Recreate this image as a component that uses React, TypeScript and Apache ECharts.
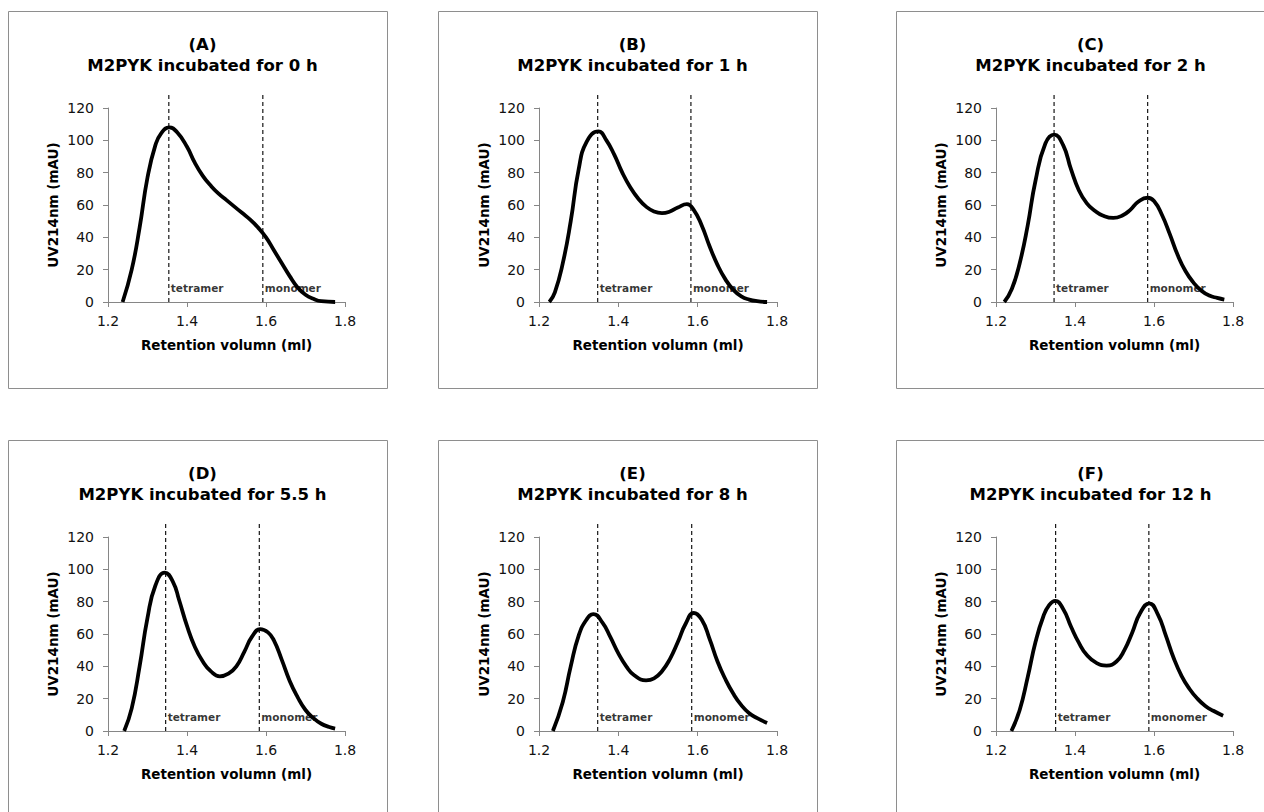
import React, { useEffect, useRef } from "react";
import * as echarts from "echarts";

// ---------- data ----------
const panelLetters = ["(A)", "(B)", "(C)", "(D)", "(E)", "(F)"];
const panelTitles = [
  "M2PYK incubated for 0 h",
  "M2PYK incubated for 1 h",
  "M2PYK incubated for 2 h",
  "M2PYK incubated for 5.5 h",
  "M2PYK incubated for 8 h",
  "M2PYK incubated for 12 h",
];
const xAxisName = "Retention volumn (ml)";
const yAxisName = "UV214nm (mAU)";
const xMin = 1.2, xMax = 1.8, xStep = 0.2;
const yMin = 0, yMax = 120, yStep = 20;

const curveA: [number, number][] = [
  [1.237, 0], [1.26, 20], [1.28, 46], [1.30, 77], [1.32, 97], [1.335, 104.5], [1.355, 108],
  [1.375, 105], [1.40, 96], [1.42, 86], [1.44, 78], [1.46, 72], [1.48, 67], [1.50, 63],
  [1.52, 59], [1.54, 55], [1.56, 51], [1.58, 46], [1.60, 40], [1.62, 32], [1.64, 24],
  [1.66, 16], [1.68, 9], [1.70, 4.5], [1.72, 2], [1.74, 0.5], [1.775, 0],
];
const curveB: [number, number][] = [
  [1.226, 0], [1.24, 6], [1.26, 24], [1.28, 50], [1.30, 82], [1.32, 99], [1.35, 105.5],
  [1.37, 100], [1.39, 91], [1.41, 80], [1.43, 71], [1.45, 64], [1.47, 59], [1.49, 56],
  [1.51, 55], [1.53, 56], [1.55, 58.5], [1.573, 60.5], [1.59, 57], [1.61, 47.5], [1.63, 34.5],
  [1.65, 23], [1.67, 14], [1.69, 7.5], [1.71, 3.5], [1.73, 1.5], [1.75, 0.5], [1.775, 0],
];
const curveC: [number, number][] = [
  [1.221, 0], [1.24, 8], [1.26, 24], [1.28, 47], [1.30, 75], [1.325, 98], [1.347, 103.5],
  [1.37, 97], [1.39, 82], [1.41, 69], [1.43, 61], [1.45, 56.5], [1.47, 53.5], [1.497, 52],
  [1.52, 53.5], [1.54, 57], [1.56, 62], [1.584, 64.5], [1.60, 62.5], [1.62, 54], [1.64, 42],
  [1.66, 29], [1.68, 19], [1.70, 12], [1.72, 7], [1.74, 4], [1.76, 2.5], [1.778, 1.5],
];
const curveD: [number, number][] = [
  [1.241, 0], [1.26, 14], [1.28, 40], [1.30, 70], [1.32, 90], [1.344, 98], [1.365, 92],
  [1.38, 81], [1.40, 65], [1.42, 52], [1.44, 43], [1.46, 37], [1.483, 33.8], [1.505, 35.5],
  [1.525, 40], [1.545, 49], [1.565, 58.5], [1.585, 63], [1.605, 61], [1.62, 56], [1.64, 44],
  [1.66, 31], [1.68, 21], [1.70, 13], [1.72, 8], [1.74, 4.5], [1.76, 2.5], [1.775, 1.5],
];
const curveE: [number, number][] = [
  [1.235, 0], [1.26, 18], [1.28, 40], [1.30, 59], [1.32, 69], [1.337, 72.3], [1.36, 67],
  [1.38, 58], [1.40, 48], [1.42, 40], [1.44, 34.5], [1.47, 31.3], [1.49, 32.5], [1.51, 37],
  [1.53, 44.5], [1.55, 55], [1.57, 66.5], [1.59, 73], [1.61, 69], [1.63, 57], [1.65, 43],
  [1.67, 32], [1.69, 23], [1.71, 16], [1.73, 11], [1.75, 8], [1.775, 5],
];
const curveF: [number, number][] = [
  [1.239, 0], [1.26, 13], [1.28, 33], [1.30, 55], [1.32, 71], [1.335, 78], [1.35, 80.5],
  [1.37, 75.5], [1.39, 64.5], [1.41, 54.5], [1.43, 47], [1.455, 42], [1.48, 40.5], [1.505, 43],
  [1.525, 50], [1.545, 61], [1.565, 73], [1.588, 79], [1.61, 72], [1.63, 59], [1.65, 45],
  [1.67, 34], [1.69, 26], [1.71, 20], [1.73, 15.5], [1.75, 12.5], [1.775, 9.5],
];
const curves = [curveA, curveB, curveC, curveD, curveE, curveF];

const tetramerPos = [1.354, 1.348, 1.347, 1.346, 1.348, 1.351];
const monomerPos = [1.592, 1.583, 1.584, 1.583, 1.585, 1.587];
const markerTop = 128;
const markerNames = ["tetramer", "monomer"];

// ---------- layout ----------
const FONT = "DejaVu Sans";
const gridLefts = [108, 539, 996];
const gridWidths = [237, 238, 237];
const gridTops = [108, 537];
const gridHeight = 194;
const boxLefts = [8, 438, 896];
const boxTops = [11, 440];
const boxW = 379, boxH = 377;
const LABEL_Y = 8.5;

export default function App() {
  const ref = useRef<HTMLDivElement>(null);
  useEffect(() => {
    if (!ref.current) return;
    const chart = echarts.init(ref.current, null, { renderer: "svg" });
    const grids: any[] = [];
    const xAxes: any[] = [];
    const yAxes: any[] = [];
    const titles: any[] = [];
    const series: any[] = [];
    const graphics: any[] = [];
    for (let i = 0; i < 6; i++) {
      const col = i % 3;
      const row = Math.floor(i / 3);
      grids.push({
        left: gridLefts[col],
        top: gridTops[row],
        width: gridWidths[col],
        height: gridHeight,
        containLabel: false,
      });
      xAxes.push({
        type: "value",
        gridIndex: i,
        min: xMin,
        max: xMax,
        interval: xStep,
        name: xAxisName,
        nameLocation: "middle",
        nameGap: 36,
        nameTextStyle: { fontFamily: FONT, fontSize: 13.5, fontWeight: "bold", color: "#000" },
        axisLine: { show: true, lineStyle: { color: "#868686", width: 1 } },
        axisTick: { show: true, length: 5, lineStyle: { color: "#868686" } },
        axisLabel: {
          margin: 12,
          fontFamily: FONT,
          fontSize: 14,
          color: "#111",
          formatter: (v: number) => v.toFixed(1),
        },
        splitLine: { show: false },
      });
      yAxes.push({
        type: "value",
        gridIndex: i,
        min: yMin,
        max: yMax,
        interval: yStep,
        name: yAxisName,
        nameLocation: "middle",
        nameGap: 48,
        nameTextStyle: { fontFamily: FONT, fontSize: 13.5, fontWeight: "bold", color: "#000" },
        axisLine: { show: true, lineStyle: { color: "#868686", width: 1 } },
        axisTick: { show: true, length: 5, lineStyle: { color: "#868686" } },
        axisLabel: { margin: 14, fontFamily: FONT, fontSize: 14, color: "#111" },
        splitLine: { show: false },
      });
      titles.push({
        text: panelLetters[i] + "\n" + panelTitles[i],
        left: boxLefts[col] + boxW / 2,
        top: boxTops[row] + 18,
        textAlign: "center",
        textStyle: { fontFamily: FONT, fontSize: 16.5, fontWeight: "bold", color: "#000", lineHeight: 21 },
      });
      graphics.push({
        type: "rect",
        shape: { x: boxLefts[col] + 0.5, y: boxTops[row] + 0.5, width: boxW, height: boxH },
        style: { fill: "none", stroke: "#8e8e8e", lineWidth: 1 },
        silent: true,
        z: -10,
      });
      series.push({
        type: "scatter",
        xAxisIndex: i,
        yAxisIndex: i,
        symbolSize: 0,
        silent: true,
        data: [
          { value: [tetramerPos[i], LABEL_Y], name: markerNames[0] },
          { value: [monomerPos[i], LABEL_Y], name: markerNames[1] },
        ],
        label: {
          show: true,
          position: "right",
          distance: 2,
          formatter: (p: any) => p.name,
          fontFamily: FONT,
          fontSize: 10.5,
          fontWeight: "bold",
          color: "#000",
        },
        z: 1,
      });
      [tetramerPos[i], monomerPos[i]].forEach((xv) => {
        series.push({
          type: "line",
          xAxisIndex: i,
          yAxisIndex: i,
          data: [[xv, 0], [xv, markerTop]],
          symbol: "none",
          clip: false,
          silent: true,
          lineStyle: { color: "#000", width: 1.1, type: [4, 3] },
          z: 2,
        });
      });
      series.push({
        type: "line",
        xAxisIndex: i,
        yAxisIndex: i,
        data: curves[i],
        smooth: 0.5,
        symbol: "none",
        clip: false,
        silent: true,
        lineStyle: { color: "#000", width: 3.8 },
        z: 3,
      });
    }
    chart.setOption({
      animation: false,
      backgroundColor: "#fff",
      title: titles,
      grid: grids,
      xAxis: xAxes,
      yAxis: yAxes,
      series,
      graphic: graphics,
    });
    return () => chart.dispose();
  }, []);
  return (
    <div
      ref={ref}
      style={{ position: "absolute", left: 0, top: 0, width: 1264, height: 812, background: "#fff" }}
    />
  );
}
